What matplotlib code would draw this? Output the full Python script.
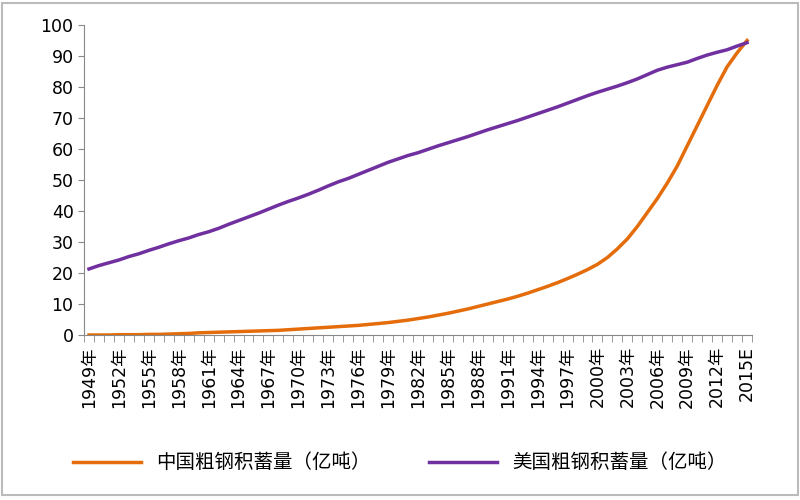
import matplotlib.pyplot as plt
from matplotlib import font_manager
import numpy as np

cjk = sorted({f.name for f in font_manager.fontManager.ttflist if 'CJK' in f.name})
plt.rcParams['font.family'] = ['DejaVu Sans'] + cjk

years = list(range(1949, 2016))
labels = [f"{y}年" for y in years[:-1]] + ["2015E"]

china = [0.0, 0.0, 0.0, 0.1, 0.1, 0.1, 0.2, 0.2, 0.3, 0.4,
         0.5, 0.7, 0.8, 0.9, 1.0, 1.1, 1.2, 1.3, 1.4, 1.5,
         1.7, 1.9, 2.1, 2.3, 2.5, 2.7, 2.9, 3.1, 3.4, 3.7,
         4.0, 4.4, 4.8, 5.3, 5.8, 6.4, 7.0, 7.7, 8.4, 9.2,
         10.0, 10.8, 11.6, 12.5, 13.5, 14.6, 15.7, 16.9, 18.2, 19.6,
         21.1, 22.8, 25.0, 27.8, 31.0, 35.0, 39.5, 44.0, 49.0, 54.5,
         61.0, 67.5, 74.0, 80.5, 86.5, 91.0, 95.0]
usa = [21.3, 22.4, 23.3, 24.2, 25.3, 26.2, 27.3, 28.3, 29.4, 30.4,
       31.3, 32.4, 33.3, 34.4, 35.7, 36.9, 38.1, 39.3, 40.6, 41.9,
       43.1, 44.2, 45.4, 46.7, 48.1, 49.4, 50.5, 51.8, 53.1, 54.4,
       55.7, 56.8, 57.9, 58.8, 59.9, 61.0, 62.0, 63.0, 64.0, 65.1,
       66.2, 67.2, 68.2, 69.2, 70.3, 71.4, 72.5, 73.6, 74.8, 76.0,
       77.2, 78.3, 79.3, 80.3, 81.4, 82.6, 84.0, 85.4, 86.4, 87.2,
       88.0, 89.2, 90.3, 91.2, 92.0, 93.2, 94.3]

fig = plt.figure(figsize=(8, 5), dpi=100)
ax = fig.add_axes([0.105, 0.33, 0.835, 0.62])
x = np.arange(len(years))
ax.plot(x, china, color='#E46C0A', lw=2.5, label='中国粗钢积蓄量（亿吨）')
ax.plot(x, usa, color='#7030A0', lw=2.5, label='美国粗钢积蓄量（亿吨）')

ax.set_ylim(0, 100)
ax.set_yticks(range(0, 101, 10))
ax.set_xlim(-0.5, len(years) - 0.5)
ax.set_xticks(x[::3])
ax.set_xticklabels(labels[::3], rotation=90, fontsize=12.5)
ax.set_xticks(np.arange(-0.5, len(years), 1), minor=True)
ax.tick_params(axis='x', which='major', length=0, pad=8)
ax.tick_params(axis='x', which='minor', length=5, color='#888888')
ax.tick_params(axis='y', labelsize=12.5, length=4, color='#888888')
for s in ['top', 'right']:
    ax.spines[s].set_visible(False)
for s in ['left', 'bottom']:
    ax.spines[s].set_color('#888888')

fig.legend(loc='lower center', bbox_to_anchor=(0.5, 0.02), ncol=2, frameon=False,
           fontsize=14, handlelength=3.5, columnspacing=3)
fig.patches.append(plt.Rectangle((0.003, 0.01), 0.994, 0.985, transform=fig.transFigure,
                                 fill=False, edgecolor='#bbbbbb', lw=1.5))
fig.savefig('out.png')
